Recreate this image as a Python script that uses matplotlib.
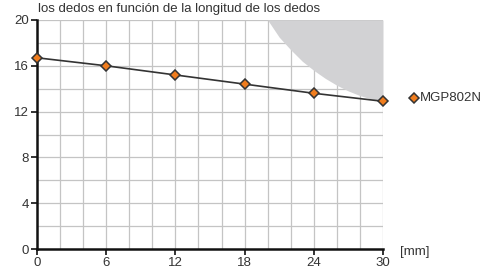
import numpy as np
import matplotlib.pyplot as plt

plt.rcParams['font.family'] = ['Liberation Sans', 'DejaVu Sans']

# finger length [mm] vs. force
lengths = [0, 6, 12, 18, 24, 30]
force = [16.7, 16.0, 15.2, 14.4, 13.6, 12.9]

# boundary of the shaded (out of range) area
limit_x = [20.0, 21.0, 22.0, 23.0, 24.0, 25.0, 26.0, 27.0, 28.0, 29.0, 30.0]
limit_y = [20.0, 18.5, 17.4, 16.4, 15.6, 14.9, 14.3, 13.8, 13.4, 13.1, 12.9]

xticks = [0, 6, 12, 18, 24, 30]
yticks = [0, 4, 8, 12, 16, 20]

fig = plt.figure(figsize=(4.9, 2.66), dpi=100)
ax = fig.add_axes([37/490, 1 - 249/266, (383 - 37)/490, (249 - 20)/266])

ax.fill_between(limit_x, limit_y, 20, color='#d2d2d4', lw=0, zorder=1)

# grid every 2 units
for gx in np.arange(2, 31, 2):
    ax.axvline(gx, color='#c4c4c4', lw=0.9, zorder=0.5)
for gy in np.arange(2, 21, 2):
    ax.axhline(gy, color='#c4c4c4', lw=0.9, zorder=0.5)

ax.plot(lengths, force, color='#333333', lw=1.2, marker='D', ms=5.5,
        mfc='#f07d1e', mec='#333333', mew=1.1, zorder=3, clip_on=False)

ax.set_xlim(0, 30)
ax.set_ylim(0, 20)
ax.set_xticks(xticks)
ax.set_yticks(yticks)
ax.tick_params(which='major', direction='out', length=4, width=1.2,
               colors='#111111', labelcolor='#333333', labelsize=9.5, pad=2)

for s in ['top', 'right']:
    ax.spines[s].set_visible(False)
for s in ['left', 'bottom']:
    ax.spines[s].set_linewidth(1.8)
    ax.spines[s].set_color('#111111')

fig.text(38/490, 1 - 9/266, 'los dedos en función de la longitud de los dedos',
         fontsize=9.5, color='#333333', va='center', ha='left')
fig.text(400/490, 1 - 252/266, '[mm]', fontsize=9.5, color='#333333',
         va='center', ha='left')

# legend entry
fig.lines.append(plt.Line2D([414/490], [1 - 98/266], transform=fig.transFigure,
                            marker='D', ms=5, mfc='#f07d1e', mec='#333333',
                            mew=1.1, ls='none'))
fig.text(420/490, 1 - 98/266, 'MGP802N', fontsize=9.5, color='#333333',
         va='center', ha='left')

fig.savefig('out.png', dpi=100)
